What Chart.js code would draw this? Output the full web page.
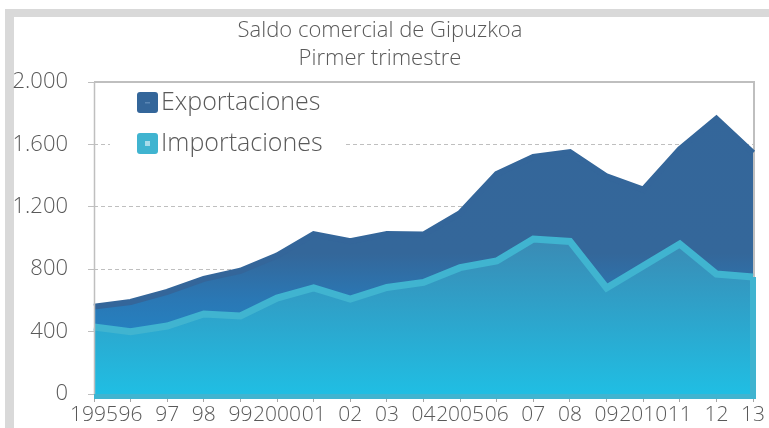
<!DOCTYPE html>
<html>
<head>
<meta charset="utf-8">
<script src="https://cdn.jsdelivr.net/npm/chart.js@4.4.0/dist/chart.umd.min.js"></script>
<style>
  html, body { margin: 0; padding: 0; background: #fff; overflow: hidden; }
  #frame { position: absolute; left: 5px; top: 9px; width: 900px; height: 600px;
           border-left: 9px solid #d9d9d9; border-top: 8px solid #d9d9d9; }
  #chart { position: absolute; left: 0; top: 0; }
</style>
</head>
<body>
<div id="frame"></div>
<canvas id="chart" width="769" height="428"></canvas>
<script>
// data (millions of euros, first quarter)
const years = ['1995', '96', '97', '98', '99', '2000', '01', '02', '03', '04',
               '2005', '06', '07', '08', '09', '2010', '11', '12', '13']
const exportaciones = [560, 590, 655, 738, 790, 887, 1025, 980, 1025, 1022,
                       1160, 1410, 1520, 1550, 1395, 1310, 1570, 1765, 1545]
const importaciones = [430, 400, 436, 513, 500, 615, 680, 609, 683, 715,
                       810, 853, 993, 978, 680, 820, 962, 769, 750]
const seriesNames = ['Exportaciones', 'Importaciones']
const yTickValues = [0, 400, 800, 1200, 1600, 2000]

const textColor = '#595959'
const gridColor = '#bfbfbf'
const importLine = '#40b4d0'

Chart.defaults.font.family = '"Open Sans", sans-serif'
Chart.defaults.font.weight = '300'
Chart.defaults.color = textColor

function vGradient(context, stops) {
    const area = context.chart.chartArea
    if (!area) return stops[0][1]
    let g = context.chart.ctx.createLinearGradient(0, area.top, 0, area.bottom)
    stops.forEach(s => g.addColorStop(s[0], s[1]))
    return g
}

function thousands(v) {
    return String(v).replace(/\B(?=(\d{3})+(?!\d))/g, '.')
}

// frame of the plot, bottom band, right edge of the import area and the legend
const plotDecor = {
    id: 'plotDecor',
    beforeDatasetsDraw(chart) {
        const {ctx, chartArea: a} = chart
        ctx.save()
        ctx.strokeStyle = gridColor
        ctx.lineWidth = 2
        ctx.beginPath()
        ctx.moveTo(a.left, a.top)
        ctx.lineTo(a.right + 1, a.top)
        ctx.lineTo(a.right + 1, a.bottom)
        ctx.stroke()
        ctx.restore()
    },
    afterDatasetsDraw(chart) {
        const {ctx, chartArea: a} = chart
        const meta = chart.getDatasetMeta(1)
        const last = meta.data[meta.data.length - 1]
        ctx.save()
        ctx.strokeStyle = importLine
        ctx.lineWidth = 6
        ctx.beginPath()
        ctx.moveTo(last.x, last.y)
        ctx.lineTo(last.x, a.bottom)
        ctx.stroke()
        ctx.fillStyle = importLine
        ctx.fillRect(a.left, a.bottom, a.width + 3, 5)
        ctx.strokeStyle = gridColor
        ctx.lineWidth = 1.5
        ctx.beginPath()
        ctx.moveTo(a.left + 0.5, a.top)
        ctx.lineTo(a.left + 0.5, a.bottom)
        ctx.stroke()
        ctx.restore()
    },
    afterDraw(chart) {
        const {ctx, chartArea: a} = chart
        const colors = ['#34669a', '#40b4d0']
        const marks = ['#5a86b4', '#a8dcea']
        ctx.save()
        ctx.fillStyle = '#fff'
        ctx.fillRect(a.left + 16, a.top + 3, 236, 76)
        ctx.font = '300 25px "Open Sans", sans-serif'
        ctx.textBaseline = 'middle'
        ctx.textAlign = 'left'
        seriesNames.forEach((name, i) => {
            const bx = a.left + 43, by = a.top + 10 + i * 41
            ctx.fillStyle = colors[i]
            ctx.beginPath()
            ctx.roundRect(bx, by, 21, 21, 3)
            ctx.fill()
            ctx.fillStyle = marks[i]
            if (i === 0) ctx.fillRect(bx + 8, by + 10, 5, 1.5)
            else ctx.fillRect(bx + 8, by + 8, 5, 5)
            ctx.fillStyle = textColor
            ctx.fillText(name, bx + 24, by + 11)
        })
        ctx.restore()
    }
}

const ctx = document.getElementById('chart').getContext('2d')
const chart = new Chart(ctx, {
    type: 'line',
    data: {
        labels: years,
        datasets: [{
            label: seriesNames[0],
            data: exportaciones,
            order: 2,
            fill: 'origin',
            borderColor: '#34669a',
            borderWidth: 6,
            backgroundColor: (c) => vGradient(c, [[0, '#34669a'], [0.55, '#34679a'], [0.7, '#2a78b5'], [1, '#1c92d6']]),
            pointRadius: 0,
            tension: 0
        }, {
            label: seriesNames[1],
            data: importaciones,
            order: 1,
            fill: 'origin',
            borderColor: importLine,
            borderWidth: 7,
            backgroundColor: (c) => vGradient(c, [[0, '#3b80ad'], [0.49, '#3b89b3'], [1, '#20bee3']]),
            pointRadius: 0,
            tension: 0
        }]
    },
    options: {
        responsive: false,
        animation: false,
        devicePixelRatio: 1,
        layout: { padding: { left: 7, right: 16, top: 0, bottom: 0 } },
        plugins: {
            legend: { display: false },
            tooltip: { enabled: false },
            title: {
                display: true,
                text: ['Saldo comercial de Gipuzkoa', 'Pirmer trimestre'],
                color: textColor,
                font: { size: 22, weight: '300', lineHeight: 28 / 22 },
                padding: { top: 17, bottom: 9 }
            }
        },
        scales: {
            x: {
                offset: false,
                grid: { drawOnChartArea: false, drawTicks: true, tickLength: 8, color: '#a6a6a6' },
                border: { display: false },
                ticks: { autoSkip: false, maxRotation: 0, padding: 0, font: { size: 21, weight: '300' }, color: textColor },
                afterFit: (s) => { s.height = 34 }
            },
            y: {
                min: 0,
                max: 2000,
                afterBuildTicks: (s) => { s.ticks = yTickValues.map(v => ({ value: v })) },
                grid: { color: gridColor, lineWidth: 1, tickLength: 6, tickColor: gridColor },
                border: { display: false, dash: [4, 3] },
                ticks: { padding: 20, font: { size: 22, weight: '300' }, color: textColor, callback: (v) => thousands(v) },
                afterFit: (s) => { s.width = 87 }
            }
        }
    },
    plugins: [plotDecor]
})
</script>
</body>
</html>
